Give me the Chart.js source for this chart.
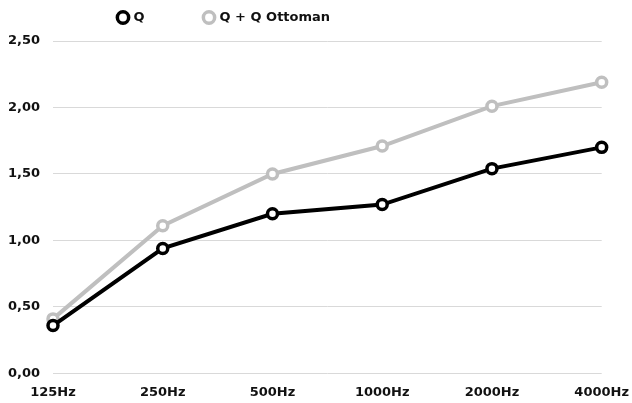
<!DOCTYPE html>
<html><head><meta charset="utf-8">
<script src="https://cdn.jsdelivr.net/npm/chart.js@4/dist/chart.umd.min.js"></script>
<style>html,body{margin:0;padding:0;background:#fff;}#wrap{width:632px;height:403px;}</style>
</head><body><div id="wrap"><canvas id="c"></canvas></div>
<script>
const categories = ["125Hz","250Hz","500Hz","1000Hz","2000Hz","4000Hz"];
const seriesQ = [0.36, 0.94, 1.20, 1.27, 1.54, 1.70];
const seriesQOttoman = [0.41, 1.11, 1.50, 1.71, 2.01, 2.19];
const seriesNames = ["Q", "Q + Q Ottoman"];
const yTicks = [0, 0.5, 1, 1.5, 2, 2.5];

Chart.defaults.font.family = "'DejaVu Sans', sans-serif";
Chart.defaults.font.weight = "bold";
Chart.defaults.font.size = 13;
Chart.defaults.color = "#111";

const colors = ['#000000', '#bfbfbf'];

new Chart(document.getElementById('c'), {
  type: 'line',
  data: {
    labels: categories,
    datasets: [
      {label: seriesNames[0], data: seriesQ, borderColor: colors[0], backgroundColor: '#fff',
       borderWidth: 4, pointRadius: 5, pointBorderWidth: 3.5, pointBackgroundColor: '#fff', pointBorderColor: colors[0], tension: 0},
      {label: seriesNames[1], data: seriesQOttoman, borderColor: colors[1], backgroundColor: '#fff',
       borderWidth: 4, pointRadius: 5, pointBorderWidth: 3.5, pointBackgroundColor: '#fff', pointBorderColor: colors[1], tension: 0}
    ]
  },
  options: {
    responsive: true, maintainAspectRatio: false, animation: false,
    layout: {padding: {left: 0, right: -4, top: 8, bottom: 0}},
    plugins: {
      legend: {position: 'top', align: 'start',
        labels: {usePointStyle: true, pointStyle: 'circle', boxWidth: 8, boxHeight: 8, padding: 10,
          generateLabels(chart) {
            return chart.data.datasets.map((d, i) => ({
              text: i === 0 ? d.label + '\u00a0'.repeat(10) + '\u2009\u2009' : d.label,
              fillStyle: '#fff', strokeStyle: d.borderColor, lineWidth: 3.5,
              pointStyle: 'circle', datasetIndex: i, hidden: false, fontColor: '#111'
            }));
          }
        }
      },
      tooltip: {enabled: false}
    },
    scales: {
      x: {offset: false, grid: {display: false}, border: {display: false},
          ticks: {padding: 3, maxRotation: 0, autoSkip: false}},
      y: {min: 0, max: 2.5, afterBuildTicks(ax) { ax.ticks = yTicks.map(v => ({value: v})); },
          afterFit(ax) { ax.width = 53; },
          grid: {color: '#d9d9d9', lineWidth: 1, drawTicks: false}, border: {display: false},
          ticks: {padding: 13, callback: v => v.toFixed(2).replace('.', ',')}}
    }
  },
  plugins: [{
    id: 'legendShift',
    afterLayout(chart) { chart.legend.left += 109; chart.legend.top -= 7; }
  }]
});
</script></body></html>
